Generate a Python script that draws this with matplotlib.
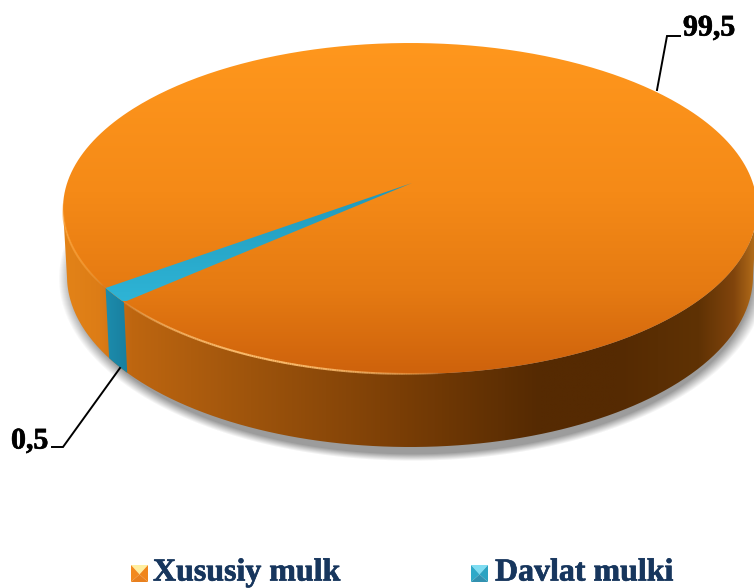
import numpy as np
import matplotlib
matplotlib.use("Agg")
import matplotlib.pyplot as plt
import matplotlib.patheffects as pe
from matplotlib.collections import LineCollection
from matplotlib.colors import LinearSegmentedColormap
from matplotlib.patches import PathPatch, Polygon
from matplotlib.path import Path

# data
categories = ["Xususiy mulk", "Davlat mulki"]
values = [99.5, 0.5]
value_labels = ["99,5", "0,5"]

W, H = 754, 588
NAVY = "#17365D"
plt.rcParams['font.family'] = ['Liberation Serif', 'DejaVu Serif']

# top face and bottom rim of the disc, in pixels
cx, cy, rx, ry = 410, 208.5, 347, 165.5
bx, by, brx, bry = 410, 276, 343, 171
apex = (412, 183)
start_angle = 151.3   # where the small slice begins on the rim
exaggerate = 3.2      # the 3d view makes the thin slice look wider


def top_rim(t):
    t = np.radians(t)
    return np.column_stack([cx + rx * np.cos(t), cy + ry * np.sin(t)])


def bottom_rim(t):
    t = np.radians(t)
    return np.column_stack([bx + brx * np.cos(t), by + bry * np.sin(t)])


def gradient(ax, pts, stops, extent, vertical=True, z=2):
    cmap = LinearSegmentedColormap.from_list("g", stops)
    g = np.linspace(0, 1, 256)
    g = g[:, None] if vertical else g[None, :]
    im = ax.imshow(g, cmap=cmap, extent=extent, aspect='auto', origin='upper',
                   vmin=0, vmax=1, zorder=z, interpolation='bilinear')
    clip = PathPatch(Path(pts), transform=ax.transData, fc='none', ec='none')
    ax.add_patch(clip)
    im.set_clip_path(clip)


def rim_glow(ax, t0, t1, color, peak):
    # highlight on the rim that fades out at both ends
    t = np.linspace(t0, t1, 160)
    p = top_rim(t)
    segs = np.stack([p[:-1], p[1:]], axis=1)
    a = peak * np.sin(np.linspace(0, np.pi, len(segs))) ** 0.6
    rgba = np.tile(matplotlib.colors.to_rgba(color), (len(segs), 1))
    rgba[:, 3] = a
    ax.add_collection(LineCollection(segs, colors=rgba, linewidths=1.5, zorder=6))


fig = plt.figure(figsize=(W / 100, H / 100), dpi=100)
ax = fig.add_axes([0, 0, 1, 1])

# soft shadow under the disc
yy, xx = np.mgrid[0:H, 0:W]
d = np.sqrt(((xx - 412) / 347) ** 2 + ((yy - 278) / 179) ** 2)
alpha = np.clip((1.02 - d) / 0.04, 0, 1) * 0.55
shadow = np.zeros((H, W, 4))
shadow[..., :3] = 0.3
shadow[..., 3] = alpha
ax.imshow(shadow, extent=(0, W, H, 0), aspect='auto', zorder=1, interpolation='bilinear')

# side wall
t = np.linspace(0, 180, 300)
wall = np.vstack([top_rim(t), bottom_rim(t[::-1])])
wall_stops = [(0, "#E38318"), (0.053, "#DC7C16"), (0.097, "#BE6610"), (0.27, "#9E540C"),
              (0.486, "#7A3E06"), (0.687, "#552A02"), (0.80, "#552A02"), (0.918, "#5F3204"),
              (0.968, "#80440C"), (1, "#B56E1A")]
gradient(ax, wall, wall_stops, (63, 757, 460, 200), vertical=False, z=2)

# slice angles come from the values
span = values[1] / sum(values) * 360 * exaggerate
t_blue = np.linspace(start_angle, start_angle - span, 20)

# blue part of the wall
blue_wall = np.vstack([top_rim(t_blue), bottom_rim(t_blue[::-1])])
gradient(ax, blue_wall, [(0, "#1E8FB0"), (1, "#177B9A")], (100, 135, 375, 285), vertical=False, z=3)

# top face
t_full = np.linspace(0, 360, 500)
gradient(ax, top_rim(t_full), [(0, "#FF971D"), (0.45, "#F58A17"), (0.75, "#E57A12"), (1, "#CE620C")],
         (0, W, 374, 43), z=4)

# blue wedge on top
blue_top = np.vstack([[apex], top_rim(t_blue)])
gradient(ax, blue_top, [(0, "#2EB4D6"), (1, "#2198BA")], (105, 412, 183, 301), vertical=True, z=5)

# light edge along the front of the disc
rim_glow(ax, 85, 146, "#FFC070", 0.95)
rim_glow(ax, 152, 182, "#FFA53A", 0.8)

# leader lines and value labels
heavy = [pe.withStroke(linewidth=0.5, foreground="black")]
heavy_navy = [pe.withStroke(linewidth=0.5, foreground=NAVY)]
ax.plot([657, 667, 680], [90, 36, 36], color="black", lw=1.4, zorder=7, solid_joinstyle='miter')
ax.plot([120, 63, 52], [368, 447, 447], color="black", lw=1.4, zorder=7, solid_joinstyle='miter')
ax.text(683, 28, value_labels[0], fontsize=21.5, fontweight='bold', color="black", ha='left', va='center',
        zorder=8, path_effects=heavy)
ax.text(11, 441, value_labels[1], fontsize=21.5, fontweight='bold', color="black", ha='left', va='center',
        zorder=8, path_effects=heavy)


# legend
def legend_key(x, y, s, top, left, right, bottom):
    mx, my = x + s / 2, y + s * 0.55
    ax.add_patch(Polygon([(x, y), (x + s, y), (mx, my)], fc=top, ec='none', zorder=7))
    ax.add_patch(Polygon([(x, y), (mx, my), (x, y + s)], fc=left, ec='none', zorder=7))
    ax.add_patch(Polygon([(x + s, y), (mx, my), (x + s, y + s)], fc=right, ec='none', zorder=7))
    ax.add_patch(Polygon([(x, y + s), (x + s, y + s), (mx, my)], fc=bottom, ec='none', zorder=7))


legend_key(131, 565, 17, "#FFEFA0", "#F28A1E", "#F0851A", "#E8801E")
legend_key(471, 565, 17, "#7FDDF2", "#2FA9C8", "#2BA3C2", "#3291B0")
ax.text(153, 573, categories[0], fontsize=23, fontweight='bold', color=NAVY, ha='left', va='center',
        zorder=8, path_effects=heavy_navy)
ax.text(495, 573, categories[1], fontsize=23, fontweight='bold', color=NAVY, ha='left', va='center',
        zorder=8, path_effects=heavy_navy)

ax.set_xlim(0, W)
ax.set_ylim(H, 0)
ax.axis('off')

plt.savefig("out.png", dpi=100)
